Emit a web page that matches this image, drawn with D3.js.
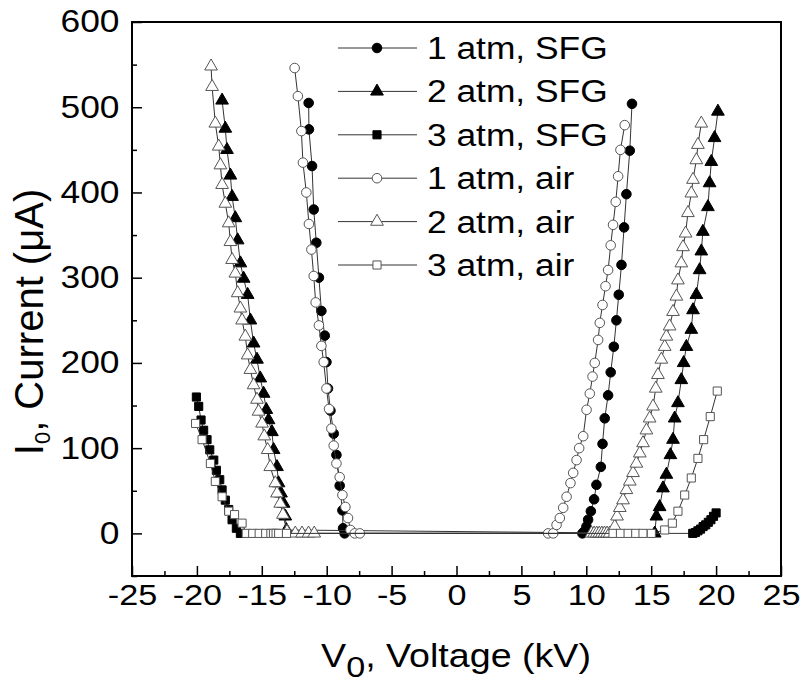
<!DOCTYPE html>
<html>
<head>
<meta charset="utf-8">
<script src="https://cdn.jsdelivr.net/npm/d3@7"></script>
<style>
  body { margin: 0; background: #fff; }
  text { font-family: "Liberation Sans", Arial, sans-serif; fill: #000; }
</style>
</head>
<body>
<svg id="chart" width="806" height="694"></svg>
<script>
// Axis tick values
const xMajorTicks = [-25, -20, -15, -10, -5, 0, 5, 10, 15, 20, 25];
const xMinorTicks = [-22.5, -17.5, -12.5, -7.5, -2.5, 2.5, 7.5, 12.5, 17.5, 22.5];
const yMajorTicks = [0, 100, 200, 300, 400, 500, 600];
const yMinorTicks = [-50, 50, 150, 250, 350, 450, 550];

// Series labels
const seriesNames = ["1 atm, SFG", "2 atm, SFG", "3 atm, SFG", "1 atm, air", "2 atm, air", "3 atm, air"];

// [voltage kV, current µA] — negative branch, then positive branch
const sfg1 = [
  [-11.39, 505], [-11.37, 474], [-11.13, 431], [-11.0, 380], [-10.8, 341], [-10.6, 300],
  [-10.41, 261], [-10.15, 232], [-10.02, 201], [-9.9, 170], [-9.71, 144], [-9.46, 117],
  [-9.25, 92], [-9.0, 56], [-8.79, 27], [-8.74, 6], [-8.62, 0],
  [9.7, 0], [9.83, 2], [10.01, 8], [10.14, 16], [10.35, 26], [10.6, 40], [10.78, 57],
  [11.12, 78], [11.25, 105], [11.42, 135], [11.68, 162], [11.88, 189], [12.12, 219],
  [12.32, 250], [12.5, 280], [12.71, 315], [12.91, 359], [13.09, 398], [13.35, 449], [13.52, 504]
];
const sfg2 = [
  [-18.06, 508], [-17.81, 475], [-17.68, 450], [-17.42, 420], [-17.29, 395], [-17.04, 370],
  [-16.86, 344], [-16.65, 317], [-16.4, 299], [-16.09, 280], [-15.88, 250], [-15.63, 223],
  [-15.37, 204], [-15.12, 182], [-14.86, 164], [-14.65, 145], [-14.48, 133], [-14.22, 119],
  [-14.09, 98], [-13.83, 78], [-13.71, 59], [-13.52, 47], [-13.32, 35], [-13.19, 20], [-13.1, 4],
  [15.27, 0], [15.4, 20], [15.65, 31], [15.91, 53], [16.17, 69], [16.48, 92], [16.68, 110],
  [16.81, 135], [17.06, 153], [17.32, 180], [17.5, 200], [17.71, 219], [18.09, 239],
  [18.22, 262], [18.48, 280], [18.73, 309], [18.86, 331], [18.98, 354], [19.37, 383],
  [19.5, 411], [19.63, 436], [19.88, 464], [20.14, 495]
];
const sfg3 = [
  [-20.04, 160], [-19.86, 149], [-19.68, 133], [-19.48, 121], [-19.22, 110], [-19.01, 98],
  [-18.7, 86], [-18.5, 74], [-18.24, 63], [-18.06, 51], [-17.81, 39], [-17.55, 28],
  [-17.29, 16], [-16.96, 6], [-16.65, 0],
  [18.2, 0], [18.4, 1], [18.6, 3], [18.8, 5], [19.0, 8], [19.2, 10], [19.4, 13],
  [19.6, 16], [19.8, 20], [20.0, 24]
];
const air1 = [
  [-12.47, 546], [-12.22, 513], [-11.95, 472], [-11.83, 435], [-11.57, 400], [-11.37, 363],
  [-11.18, 333], [-11.0, 302], [-10.85, 271], [-10.6, 244], [-10.41, 220], [-10.23, 201],
  [-10.02, 170], [-9.82, 146], [-9.64, 123], [-9.46, 103], [-9.25, 82], [-9.0, 66],
  [-8.79, 45], [-8.56, 31], [-8.36, 18], [-8.17, 4], [-7.84, 0], [-7.45, 0],
  [7.06, 0], [7.45, 0], [7.71, 10], [7.96, 18], [8.22, 30], [8.48, 43], [8.78, 59],
  [8.99, 71], [9.25, 86], [9.45, 100], [9.76, 114], [10.02, 145], [10.27, 164], [10.48, 184],
  [10.65, 200], [10.91, 227], [11.04, 247], [11.25, 268], [11.48, 290], [11.68, 309],
  [11.88, 338], [12.06, 362], [12.27, 389], [12.45, 419], [12.63, 450], [12.96, 479]
];
const air2 = [
  [-18.91, 548], [-18.83, 524], [-18.58, 481], [-18.32, 454], [-18.19, 432], [-18.06, 409],
  [-17.81, 387], [-17.55, 364], [-17.42, 342], [-17.29, 321], [-17.04, 305], [-16.86, 282],
  [-16.65, 264], [-16.52, 250], [-16.27, 231], [-16.09, 209], [-15.88, 192], [-15.63, 174],
  [-15.37, 157], [-15.25, 143], [-14.98, 129], [-14.81, 114], [-14.55, 98], [-14.35, 78],
  [-13.96, 59], [-13.83, 47], [-13.58, 35], [-13.37, 22], [-13.06, 2],
  [-12.42, 0], [-11.9, 0], [-11.4, 0], [-10.96, 0],
  [10.4, 0], [10.6, 0], [10.8, 0], [11.0, 0], [11.2, 0], [11.4, 0], [11.6, 0], [11.8, 0],
  [12.19, 8], [12.37, 20], [12.58, 30], [12.83, 39], [13.09, 51], [13.35, 61], [13.6, 71],
  [13.86, 82], [14.12, 94], [14.37, 106], [14.63, 121], [14.88, 135], [15.14, 149],
  [15.35, 170], [15.52, 186], [15.78, 204], [16.04, 219], [16.17, 231], [16.42, 243],
  [16.68, 260], [16.94, 278], [17.06, 297], [17.32, 317], [17.45, 336], [17.65, 352],
  [17.83, 376], [18.09, 399], [18.22, 415], [18.48, 438], [18.6, 456], [18.86, 481]
];
const air3 = [
  [-20.1, 129], [-19.6, 110], [-18.96, 82], [-18.58, 61], [-18.06, 43], [-17.55, 26],
  [-17.1, 22], [-16.52, 12], [-16.2, 0], [-15.7, 0], [-15.2, 0], [-14.7, 0], [-14.3, 0],
  [-14.1, 0], [-13.9, 0], [-13.7, 0], [-13.1, 0],
  [12.06, 0], [12.63, 0], [13.22, 0], [13.81, 0], [14.37, 0], [15.01, 0], [16.04, 4],
  [16.63, 12], [17.06, 26], [17.58, 45], [18.09, 65], [18.6, 88], [19.04, 110],
  [19.55, 137], [20.09, 167]
];

const seriesData = [sfg1, sfg2, sfg3, air1, air2, air3];
const seriesShapes = [d3.symbolCircle, d3.symbolTriangle, d3.symbolSquare,
                      d3.symbolCircle, d3.symbolTriangle, d3.symbolSquare];
const seriesFilled = [true, true, true, false, false, false];
const shapeSizes = new Map([[d3.symbolCircle, 72], [d3.symbolTriangle, 70], [d3.symbolSquare, 66]]);

const svg = d3.select("#chart");
const plot = { left: 132, right: 781, top: 22, bottom: 576 };
const textStretch = 1.14; // glyphs are drawn slightly wide

const x = d3.scaleLinear().domain([-25, 25]).range([plot.left, plot.right]);
const y = d3.scaleLinear().domain([-50, 600]).range([plot.bottom, plot.top]);

// Data lines and markers
const line = d3.line().x(d => x(d[0])).y(d => y(d[1]));
const marks = svg.append("g");
seriesData.forEach((data, i) => {
  const g = marks.append("g");
  g.append("path")
    .attr("d", line(data))
    .attr("fill", "none")
    .attr("stroke", "#333")
    .attr("stroke-width", 1);
  const sym = d3.symbol().type(seriesShapes[i]).size(shapeSizes.get(seriesShapes[i]));
  g.selectAll("path.pt").data(data).join("path")
    .attr("class", "pt")
    .attr("transform", d => `translate(${x(d[0])},${y(d[1])})`)
    .attr("d", sym)
    .attr("fill", seriesFilled[i] ? "#000" : "#fff")
    .attr("stroke", seriesFilled[i] ? "#000" : "#555")
    .attr("stroke-width", 1);
});

// Frame
svg.append("rect")
  .attr("x", plot.left).attr("y", plot.top)
  .attr("width", plot.right - plot.left).attr("height", plot.bottom - plot.top)
  .attr("fill", "none").attr("stroke", "#000").attr("stroke-width", 2);

// Axes with inward ticks
const tickFmt = d => String(d);
svg.append("g").attr("class", "xaxis").attr("transform", `translate(0,${plot.bottom})`)
  .call(d3.axisBottom(x).tickValues(xMajorTicks).tickSizeInner(-10).tickSizeOuter(0)
    .tickPadding(8).tickFormat(tickFmt));
svg.append("g").attr("transform", `translate(0,${plot.bottom})`)
  .call(d3.axisBottom(x).tickValues(xMinorTicks).tickSizeInner(-5).tickSizeOuter(0).tickFormat(""));
svg.append("g").attr("class", "yaxis").attr("transform", `translate(${plot.left},0)`)
  .call(d3.axisLeft(y).tickValues(yMajorTicks).tickSizeInner(-10).tickSizeOuter(0)
    .tickPadding(11).tickFormat(tickFmt));
svg.append("g").attr("transform", `translate(${plot.left},0)`)
  .call(d3.axisLeft(y).tickValues(yMinorTicks).tickSizeInner(-5).tickSizeOuter(0).tickFormat(""));

svg.selectAll(".domain").remove();
svg.selectAll(".tick line").attr("stroke", "#000").attr("stroke-width", 1.5);
svg.selectAll(".xaxis .tick text")
  .attr("font-family", "Liberation Sans, Arial, sans-serif")
  .attr("font-size", 30).attr("fill", "#000")
  .attr("transform", `scale(${textStretch},1)`);
svg.selectAll(".yaxis .tick text")
  .attr("font-family", "Liberation Sans, Arial, sans-serif")
  .attr("font-size", 31).attr("fill", "#000")
  .attr("transform", `scale(${textStretch},1)`);

// Axis titles
const xTitle = svg.append("text")
  .attr("transform", `translate(456,667) scale(${textStretch},1)`)
  .attr("text-anchor", "middle")
  .attr("font-size", 33);
xTitle.append("tspan").text("V");
xTitle.append("tspan").attr("dy", 10).attr("font-size", 30).text("0");
xTitle.append("tspan").attr("dy", -10).text(", Voltage (kV)");

const yTitle = svg.append("text")
  .attr("transform", "translate(43,322) rotate(-90)")
  .attr("text-anchor", "middle")
  .attr("font-size", 40);
yTitle.append("tspan").text("I");
yTitle.append("tspan").attr("dy", 7).attr("font-size", 22).text("0");
yTitle.append("tspan").attr("dy", -7).text(", Current (\u03bcA)");

// Legend
const legendRowY = d3.scaleLinear().domain([0, 5]).range([48, 265]);
const legend = svg.append("g");
seriesNames.forEach((name, i) => {
  const ry = legendRowY(i);
  legend.append("line")
    .attr("x1", 338).attr("x2", 417).attr("y1", ry).attr("y2", ry)
    .attr("stroke", "#333").attr("stroke-width", 1);
  const sym = d3.symbol().type(seriesShapes[i]).size(shapeSizes.get(seriesShapes[i]));
  legend.append("path")
    .attr("transform", `translate(377,${ry})`)
    .attr("d", sym)
    .attr("fill", seriesFilled[i] ? "#000" : "#fff")
    .attr("stroke", seriesFilled[i] ? "#000" : "#555");
  legend.append("text")
    .attr("transform", `translate(427,${ry + 11}) scale(${textStretch},1)`)
    .attr("font-size", 31)
    .text(name);
});
</script>
</body>
</html>
